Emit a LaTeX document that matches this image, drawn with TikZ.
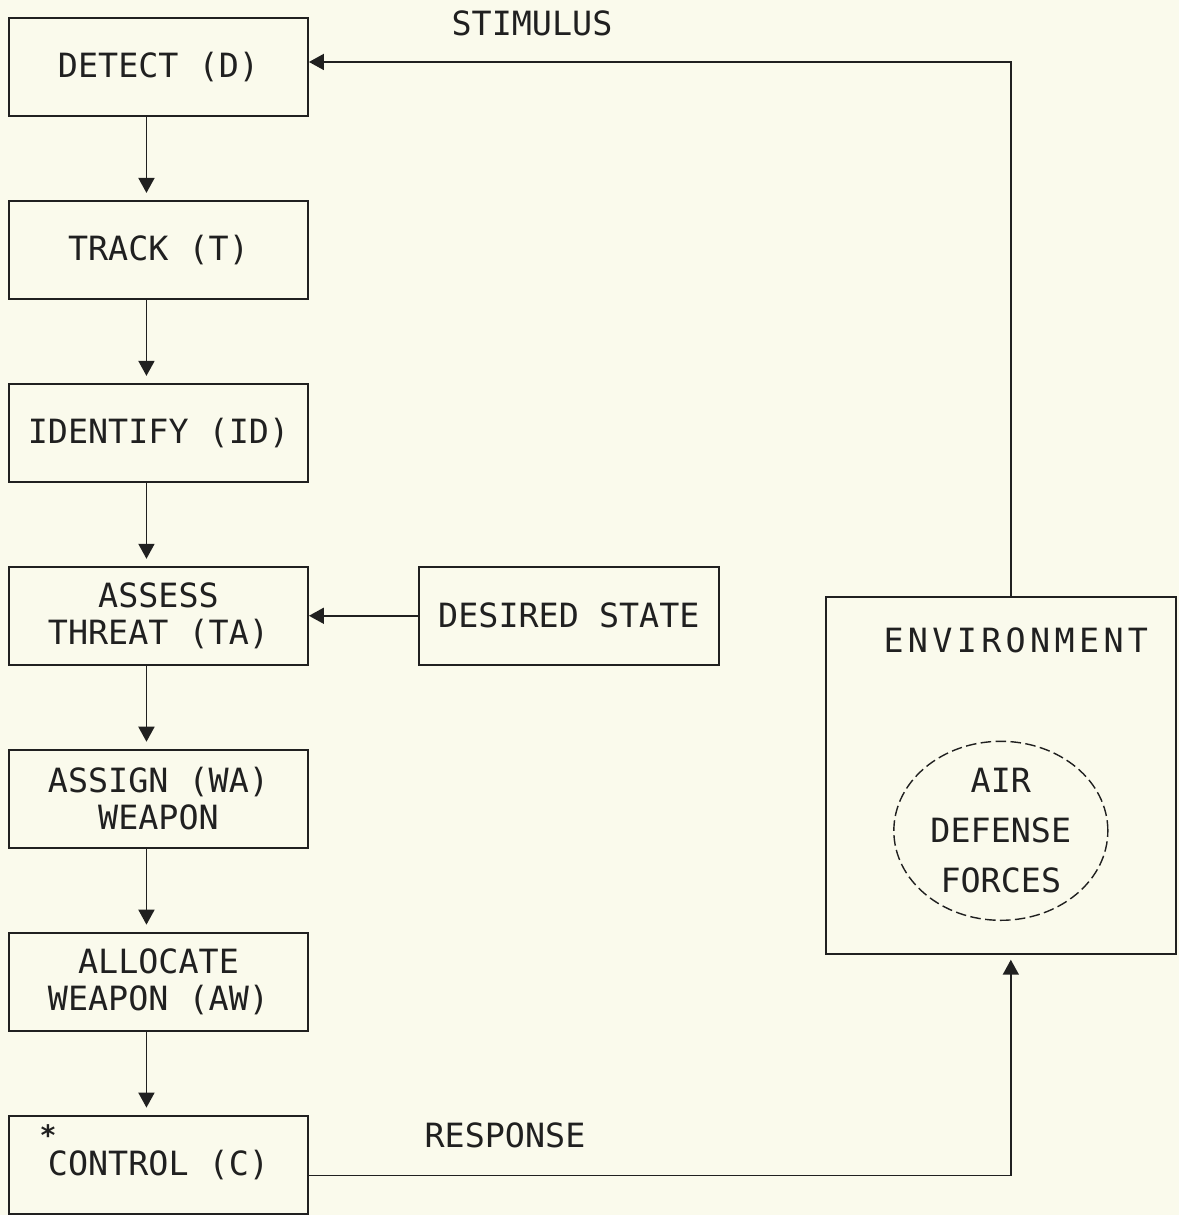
\documentclass[tikz,border=0pt]{standalone}
\usepackage{fontspec}
\usepackage{tikz}
\usetikzlibrary{arrows.meta,positioning,shapes.geometric}
\newfontfamily\plotter{DejaVu Sans Mono}
\newfontfamily\plotterwide[LetterSpace=13]{DejaVu Sans Mono}
\definecolor{paper}{RGB}{250,250,236}
\definecolor{ink}{RGB}{32,32,32}
\tikzset{
  box/.style   ={rectangle, draw=ink, line width=1.1pt, align=center,
                 minimum width=5.98cm, minimum height=1.96cm, inner sep=2pt,
                 font=\plotter\fontsize{19}{21}\selectfont, text=ink},
  envbox/.style={rectangle, draw=ink, line width=1.1pt,
                 minimum width=7cm, minimum height=7.14cm},
  force/.style ={ellipse, draw=ink, line width=0.8pt, dash pattern=on 6pt off 2.5pt,
                 minimum width=4.28cm, minimum height=3.58cm, align=center,
                 inner sep=0pt, font=\plotter\fontsize{19}{28.5}\selectfont, text=ink},
  lbl/.style   ={font=\plotter\fontsize{19}{21}\selectfont, text=ink, inner sep=0pt},
  ar/.style    ={-{Triangle[length=3mm,width=3.2mm]}, draw=ink, line width=1pt},
  dn/.style    ={ar, shorten >=1.4mm}
}
\begin{document}
\begin{tikzpicture}[node distance=1.66cm]
\useasboundingbox (0,0) rectangle (23.58,-24.3);
\fill[paper] (0,0) rectangle (23.58,-24.3);
\node[box, anchor=north west] (det) at (0.16,-0.34) {DETECT (D)};
\node[box, below=of det] (trk) {TRACK (T)};
\node[box, below=of trk] (idf) {IDENTIFY (ID)};
\node[box, below=of idf] (ta) {ASSESS\\THREAT (TA)};
\node[box, below=of ta] (wa) {ASSIGN (WA)\\WEAPON};
\node[box, below=of wa] (aw) {ALLOCATE\\WEAPON (AW)};
\node[box, below=of aw] (ctl) {CONTROL (C)};
\node[box, right=2.18cm of ta, minimum width=6cm] (des) {DESIRED STATE};
\node[envbox, anchor=north west] (env) at ([xshift=2.1cm,yshift=-0.6cm]des.north east) {};
\node[lbl, font=\plotterwide\fontsize{19}{21}\selectfont] (envlbl)
  at ([xshift=0.3cm,yshift=-0.9cm]env.north) {ENVIRONMENT};
\node[force] (adf) at ([yshift=-4.7cm]env.north) {AIR\\DEFENSE\\FORCES};
\node[lbl] (stimlbl) at (10.64,-0.46) {STIMULUS};
\node[lbl] (resplbl) at (10.1,-22.7) {RESPONSE};
\node[lbl, font=\plotter\bfseries\fontsize{16}{16}\selectfont] (star)
  at ([xshift=0.8cm,yshift=-0.4cm]ctl.north west) {*};
\coordinate (stim) at ([xshift=0.2cm]env.north);
\coordinate (resp) at ([xshift=0.2cm]env.south);
\draw[ar] (stim) |- ([yshift=0.1cm]det.east);
\draw[ar] (des) -- (ta);
\draw[ar, shorten >=1mm] ([yshift=-0.22cm]ctl.east) -| (resp);
\draw[dn] ([xshift=-2.4mm]det.south) -- ([xshift=-2.4mm]trk.north);
\draw[dn] ([xshift=-2.4mm]trk.south) -- ([xshift=-2.4mm]idf.north);
\draw[dn] ([xshift=-2.4mm]idf.south) -- ([xshift=-2.4mm]ta.north);
\draw[dn] ([xshift=-2.4mm]ta.south) -- ([xshift=-2.4mm]wa.north);
\draw[dn] ([xshift=-2.4mm]wa.south) -- ([xshift=-2.4mm]aw.north);
\draw[dn] ([xshift=-2.4mm]aw.south) -- ([xshift=-2.4mm]ctl.north);
\end{tikzpicture}
\end{document}
